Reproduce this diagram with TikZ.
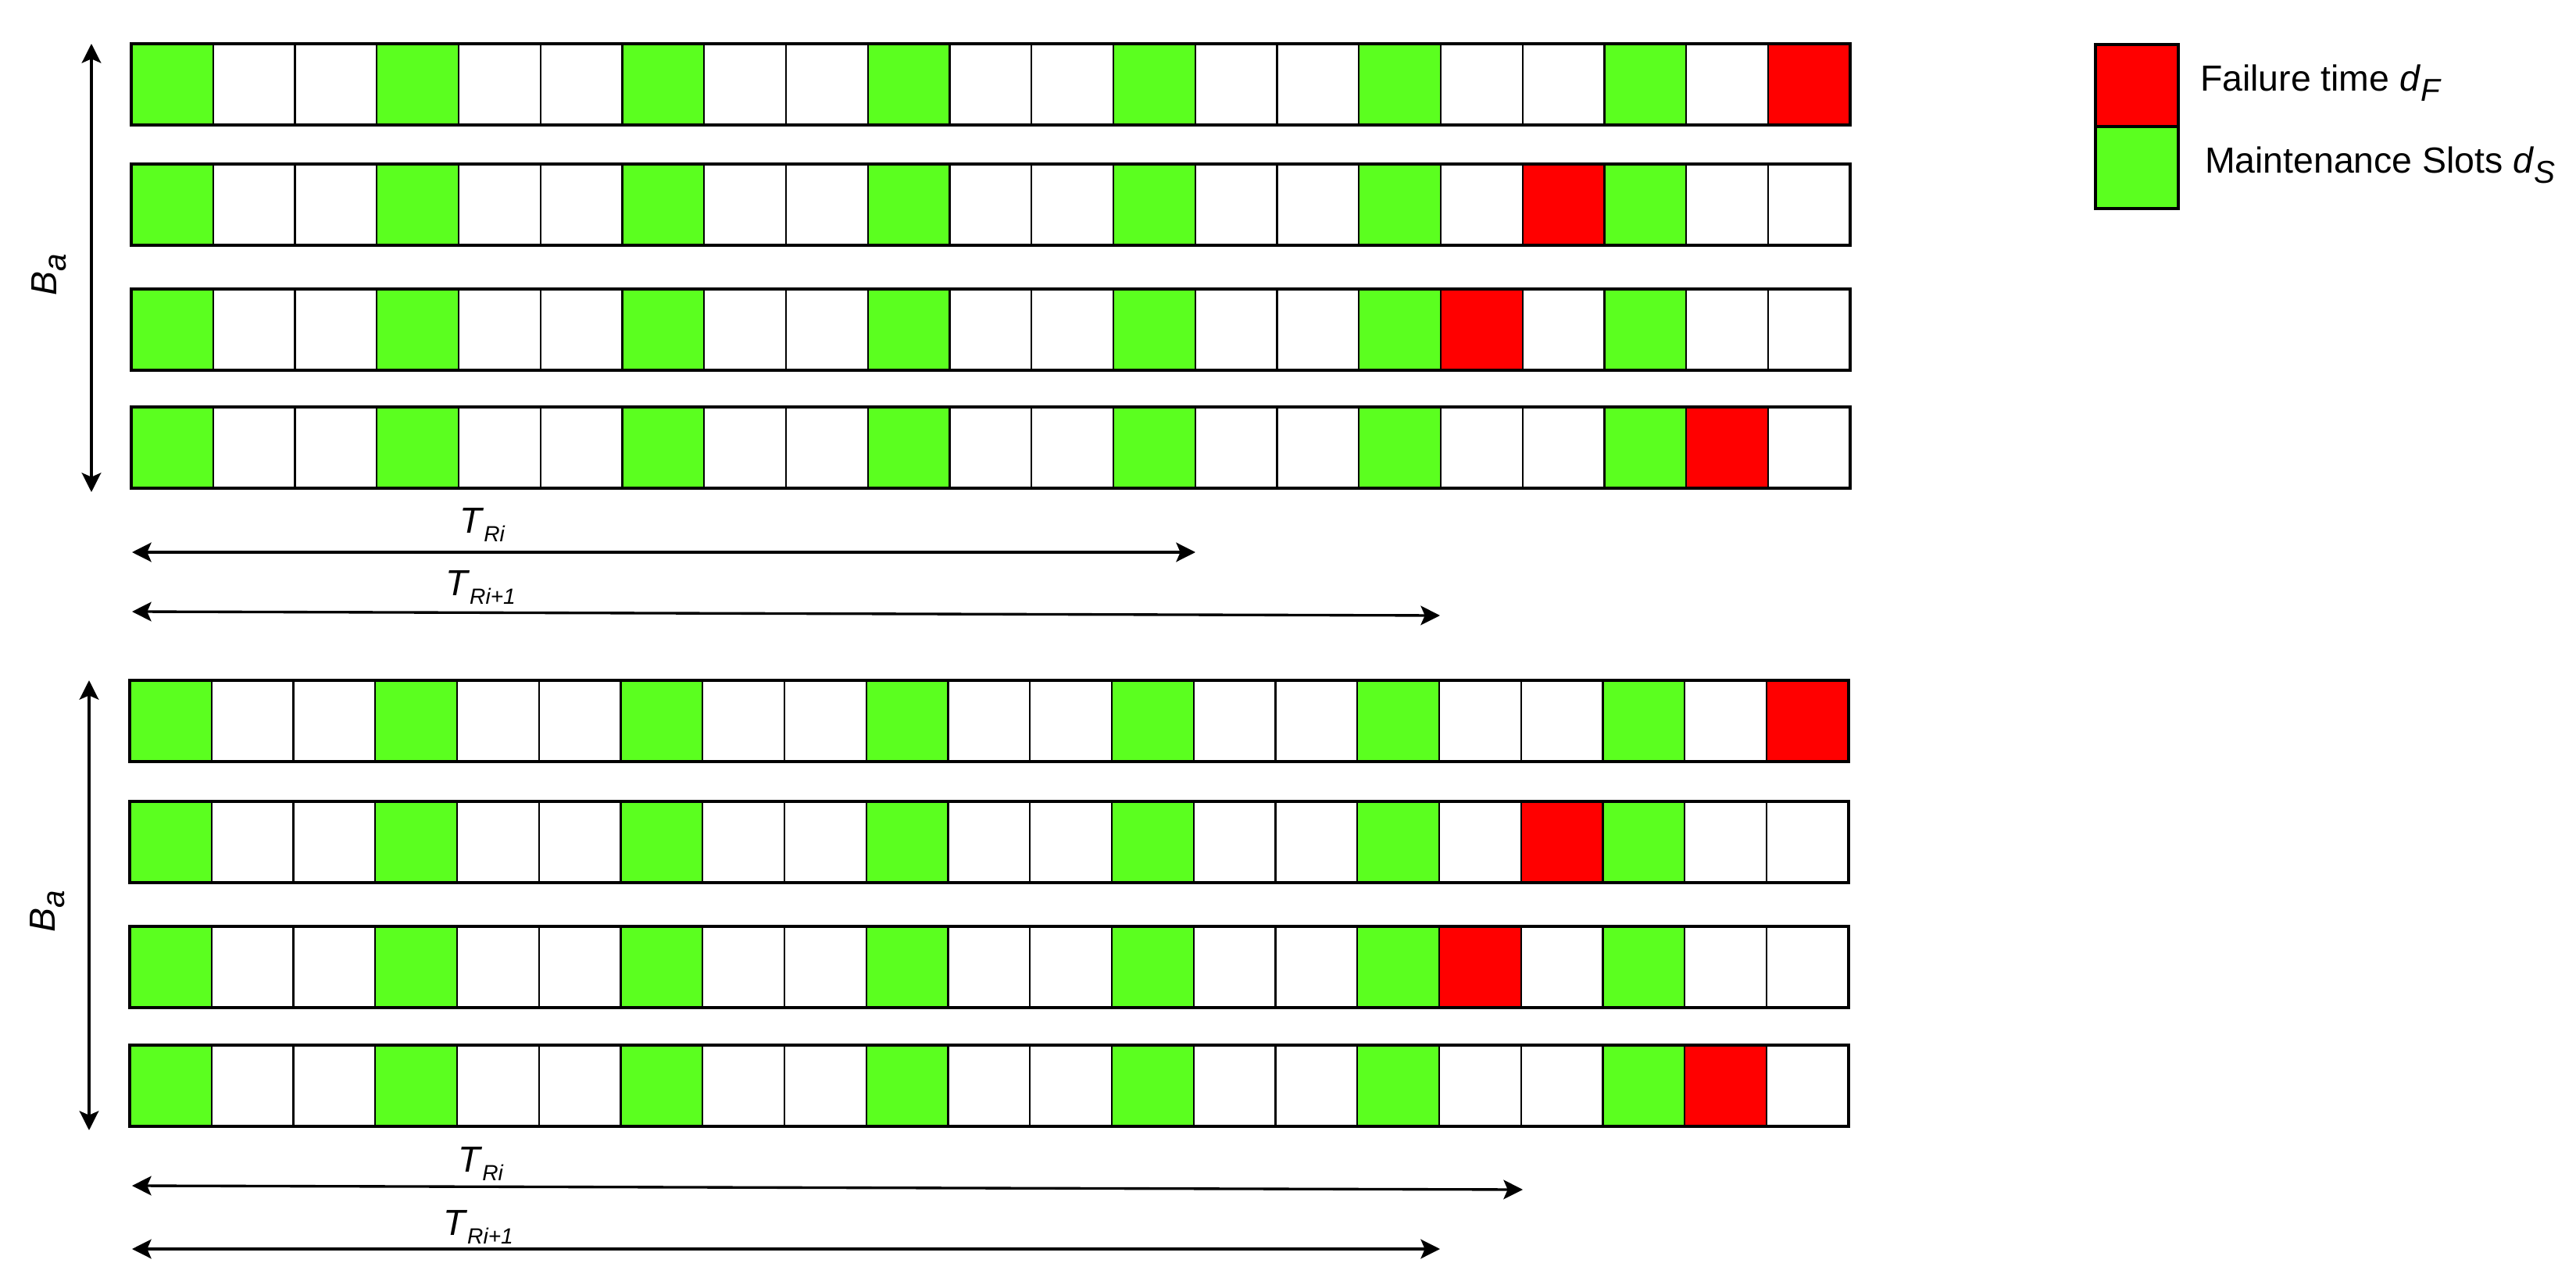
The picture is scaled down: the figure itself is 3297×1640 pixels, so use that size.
\documentclass[tikz,border=0pt]{standalone}
\usepackage{fontspec}
\setmainfont{Liberation Sans}
\usetikzlibrary{arrows.meta}
\definecolor{slotgreen}{RGB}{91,255,31}
\definecolor{failred}{RGB}{255,0,0}
\newcommand\smallsub[1]{\raisebox{-0.25em}{\fontsize{8}{9}\selectfont\itshape #1}}
\newcommand\bigsub[1]{\raisebox{-0.26em}{\fontsize{11.5}{12}\selectfont\itshape #1}}
\begin{document}
\begin{tikzpicture}[x=0.01cm,y=-0.01cm,
  cell/.style={draw=black, line width=0.63pt, minimum width=1.0475cm, minimum height=1.04cm,
    inner sep=0pt, outer sep=0pt, anchor=north west},
  rowframe/.style={draw=black, line width=1pt},
  tipstyle/.style={},
  dimarrow/.style={{Stealth[length=7pt,width=7pt,inset=1.5pt]}-{Stealth[length=7pt,width=7pt,inset=1.5pt]}, line width=0.95pt},
  lbl/.style={font=\fontsize{13.2}{15}\selectfont, inner sep=0pt, outer sep=0pt},
  legbox/.style={draw=black, line width=1pt, minimum width=1.06cm, minimum height=1.05cm, inner sep=0pt, anchor=north west}
]
\useasboundingbox (0,0) rectangle (3297,1640);

% ---------- top panel ----------
\foreach \y/\red [count=\r] in {56/20,210/17,370/16,521/19} {
  \foreach \c in {0,...,20} {
    \pgfmathtruncatemacro\m{mod(\c,3)}
    \ifnum\c=\red \def\fc{failred}\else\ifnum\m=0 \def\fc{slotgreen}\else\def\fc{white}\fi\fi
    \node[cell, fill=\fc] (A-\r-\c) at ({168+104.75*\c},\y) {};
  }
  \draw[rowframe] (A-\r-0.north west) rectangle (A-\r-20.south east);
}

% ---------- bottom panel ----------
\foreach \y/\red [count=\r] in {871/20,1026/17,1186/16,1338/19} {
  \foreach \c in {0,...,20} {
    \pgfmathtruncatemacro\m{mod(\c,3)}
    \ifnum\c=\red \def\fc{failred}\else\ifnum\m=0 \def\fc{slotgreen}\else\def\fc{white}\fi\fi
    \node[cell, fill=\fc] (B-\r-\c) at ({166+104.75*\c},\y) {};
  }
  \draw[rowframe] (B-\r-0.north west) rectangle (B-\r-20.south east);
}

% ---------- vertical B_a arrows ----------
\coordinate (va1t) at (117,56);
\coordinate (va1b) at (117,630);
\draw[dimarrow] (va1t) -- (va1b);
\node[lbl, rotate=90] (ba1) at (63,352) {\textit{B}\bigsub{a}};

\coordinate (va2t) at (114,871);
\coordinate (va2b) at (114,1447);
\draw[dimarrow] (va2t) -- (va2b);
\node[lbl, rotate=90] (ba2) at (61,1167) {\textit{B}\bigsub{a}};

% ---------- horizontal T arrows, top ----------
\coordinate (h1l) at (169,707);
\coordinate (h1r) at (1530,707);
\draw[dimarrow] (h1l) -- (h1r);
\node[lbl] (tri1) at (617,672) {\textit{T}\smallsub{Ri}};

\coordinate (h2l) at (169,783);
\coordinate (h2r) at (1843,788);
\draw[dimarrow] (h2l) -- (h2r);
\node[lbl] (trj1) at (615,752) {\textit{T}\smallsub{Ri+1}};

% ---------- horizontal T arrows, bottom ----------
\coordinate (h3l) at (169,1518);
\coordinate (h3r) at (1949,1523);
\draw[dimarrow] (h3l) -- (h3r);
\node[lbl] (tri2) at (615,1490) {\textit{T}\smallsub{Ri}};

\coordinate (h4l) at (169,1599);
\coordinate (h4r) at (1843,1599);
\draw[dimarrow] (h4l) -- (h4r);
\node[lbl] (trj2) at (612,1571) {\textit{T}\smallsub{Ri+1}};

% ---------- legend ----------
\node[legbox, fill=failred] (legF) at (2680,55) {};
\node[legbox, fill=slotgreen] (legS) at (2680,160) {};
\node[lbl, anchor=base west] (legFt) at (2816,117) {Failure time \textit{d}\bigsub{F}};
\node[lbl, anchor=base west] (legSt) at (2822,222) {Maintenance Slots \textit{d}\bigsub{S}};
\end{tikzpicture}
\end{document}
